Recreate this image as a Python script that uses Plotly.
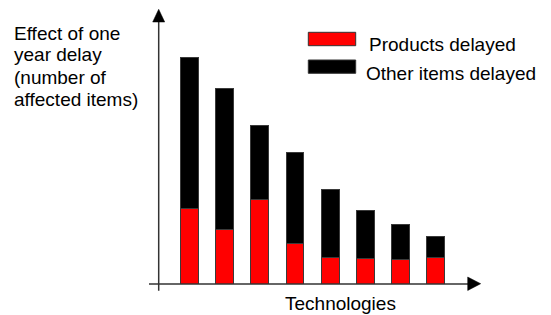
import plotly.graph_objects as go

# Data (arbitrary units)
technologies = ["T1", "T2", "T3", "T4", "T5", "T6", "T7", "T8"]
products_delayed = [76, 55, 85, 41, 27, 26, 25, 27]
other_items_delayed = [151, 141, 74, 91, 68, 48, 35, 21]
series_names = ["Products delayed", "Other items delayed"]
series_colors = ["#ff0000", "#000000"]
y_title_lines = ["Effect of one", "year delay", "(number of", "affected items)"]
x_title = "Technologies"

FONT = "Liberation Sans, Arial, sans-serif"
FS = 19

fig = go.Figure()
for name, vals, col in zip(series_names, [products_delayed, other_items_delayed], series_colors):
    fig.add_trace(go.Bar(
        x=list(range(len(technologies))), y=vals, name=name,
        marker=dict(color=col, line=dict(color="#3a3a3a", width=1)),
        width=0.51, showlegend=False, hoverinfo="skip",
    ))

W, H = 551, 315
L, R, T, B = 149, 70, 9, 31
pw, ph = W - L - R, H - T - B

def px(x):
    return (x - L) / pw

def py(y):
    return (H - B - y) / ph

shapes = []
# y axis line
shapes.append(dict(type="line", xref="paper", yref="paper",
                   x0=px(158.7), x1=px(158.7), y0=py(290.7), y1=py(21),
                   line=dict(color="#333333", width=1.5)))
# x axis line
shapes.append(dict(type="line", xref="paper", yref="paper",
                   x0=px(149), x1=px(469), y0=py(284), y1=py(284),
                   line=dict(color="#333333", width=1.5)))
# arrowheads
shapes.append(dict(type="path", xref="paper", yref="paper",
                   path=f"M {px(152.7)},{py(22)} L {px(164.7)},{py(22)} L {px(158.7)},{py(9.3)} Z",
                   fillcolor="#000", line=dict(color="#000", width=0.5)))
shapes.append(dict(type="path", xref="paper", yref="paper",
                   path=f"M {px(467.7)},{py(277)} L {px(467.7)},{py(290.5)} L {px(480.7)},{py(283.7)} Z",
                   fillcolor="#000", line=dict(color="#000", width=0.5)))
# legend swatches
sw_y = [(32.3, 45.7), (60, 73.3)]
for (y0, y1), col in zip(sw_y, series_colors):
    shapes.append(dict(type="rect", xref="paper", yref="paper",
                       x0=px(308.3), x1=px(355.7), y0=py(y1), y1=py(y0),
                       fillcolor=col, line=dict(color="#333333", width=1)))

annotations = []
leg_text_pos = [(367, 45), (364, 74)]
for (x, y), name in zip(leg_text_pos, series_names):
    annotations.append(dict(xref="paper", yref="paper", x=px(x), y=py(y),
                            xanchor="left", yanchor="middle", showarrow=False,
                            text=name, font=dict(family=FONT, size=FS, color="#000")))
for i, line in enumerate(y_title_lines):
    annotations.append(dict(xref="paper", yref="paper", x=px(12), y=py(33 + 22 * i),
                            xanchor="left", yanchor="middle", showarrow=False,
                            text=line, font=dict(family=FONT, size=FS, color="#000")))
annotations.append(dict(xref="paper", yref="paper", x=px(340), y=py(303),
                        xanchor="center", yanchor="middle", showarrow=False,
                        text=x_title, font=dict(family=FONT, size=FS, color="#000")))

# x range: bar centres at 189.7 + i*35.1 px
x0 = (L - 189.7) / 35.1
x1 = (W - R - 189.7) / 35.1

fig.update_layout(
    width=W, height=H,
    margin=dict(l=L, r=R, t=T, b=B, pad=0),
    paper_bgcolor="white", plot_bgcolor="white",
    barmode="stack",
    xaxis=dict(range=[x0, x1], visible=False, fixedrange=True),
    yaxis=dict(range=[0, ph], visible=False, fixedrange=True),
    shapes=shapes, annotations=annotations,
    font=dict(family=FONT),
)

fig.write_html("out.html", config={"displayModeBar": False},
               post_script="document.body.style.margin='0';document.body.style.overflow='hidden';")
